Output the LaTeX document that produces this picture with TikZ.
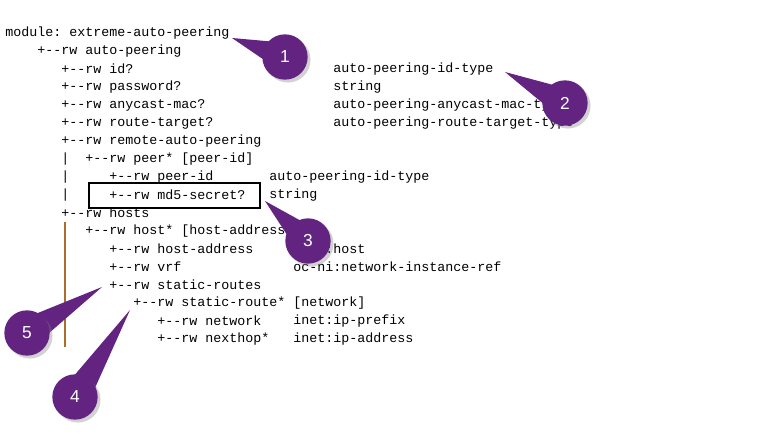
\documentclass[tikz,border=0pt]{standalone}
\usepackage{fontspec}
\setmonofont{Liberation Mono}
\setsansfont{Liberation Sans}
\usetikzlibrary{calc,shadows}
\definecolor{bubblecol}{RGB}{98,36,128}
\definecolor{barcol}{RGB}{170,110,40}

\begin{document}
\begin{tikzpicture}[
    x=0.75pt,y=-0.75pt,
    txt/.style={anchor=west,inner sep=0pt,font=\ttfamily\fontsize{10pt}{12pt}\selectfont},
    bubble/.style={circle,fill=bubblecol,minimum size=34pt,inner sep=0pt,text=white,
      font=\sffamily\fontsize{13pt}{15pt}\selectfont,drop shadow={opacity=0.35}},
    tail/.style={fill=bubblecol}]
    \useasboundingbox[fill=white] (0,0) rectangle (772,443);

    % tree text, 8px per column, 18px per row
    \node[txt] (mod) at (5,33) {module: extreme-auto-peering};
    \node[txt] (ap) at (37,51) {+{-}{-}rw auto-peering};
    \node[txt] (id) at (61,69) {+{-}{-}rw id?};
    \node[txt] (idt) at (333,69) {auto-peering-id-type};
    \node[txt] (pw) at (61,87) {+{-}{-}rw password?};
    \node[txt] (pwt) at (333,87) {string};
    \node[txt] (mac) at (61,105) {+{-}{-}rw anycast-mac?};
    \node[txt] (mact) at (333,105) {auto-peering-anycast-mac-type};
    \node[txt] (rt) at (61,123) {+{-}{-}rw route-target?};
    \node[txt] (rtt) at (333,123) {auto-peering-route-target-type};
    \node[txt] (rap) at (61,141) {+{-}{-}rw remote-auto-peering};
    \node[txt] (b1) at (61,159) {|};
    \node[txt] (peer) at (85,159) {+{-}{-}rw peer* [peer-id]};
    \node[txt] (b2) at (61,177) {|};
    \node[txt] (pid) at (109,177) {+{-}{-}rw peer-id};
    \node[txt] (pidt) at (269,177) {auto-peering-id-type};
    \node[txt] (b3) at (61,195) {|};
    \node[txt] (md5) at (109,195) {+{-}{-}rw md5-secret?};
    \node[txt] (md5t) at (269,195) {string};
    \node[txt] (hosts) at (61,213) {+{-}{-}rw hosts};
    \node[txt] (host) at (85,231) {+{-}{-}rw host* [host-address]};
    \node[txt] (ha) at (109,249) {+{-}{-}rw host-address};
    \node[txt] (hat) at (293,249) {inet:host};
    \node[txt] (vrf) at (109,267) {+{-}{-}rw vrf};
    \node[txt] (vrft) at (293,267) {oc-ni:network-instance-ref};
    \node[txt] (srs) at (109,285) {+{-}{-}rw static-routes};
    \node[txt] (sr) at (133,303) {+{-}{-}rw static-route* [network]};
    \node[txt] (net) at (157,321) {+{-}{-}rw network};
    \node[txt] (nett) at (293,321) {inet:ip-prefix};
    \node[txt] (nh) at (157,339) {+{-}{-}rw nexthop*};
    \node[txt] (nht) at (293,339) {inet:ip-address};

    \draw[barcol,line width=0.9pt] (65,222) -- (65,347);
    \draw[line width=2.2pt] (89,183) rectangle (260,208);

    % callouts
    \coordinate (c1) at (285,57);  \coordinate (t1) at (232,38);
    \coordinate (c2) at (565,103); \coordinate (t2) at (505,72);
    \coordinate (c3) at (308,241); \coordinate (t3) at (265,201);
    \coordinate (c4) at (75,397);  \coordinate (t4) at (130,310);
    \coordinate (c5) at (27,333);  \coordinate (t5) at (102,287);
    \foreach \n in {1,...,5}
      \fill[tail] (t\n) -- ($(c\n)!11pt!90:(t\n)$) -- ($(c\n)!11pt!-90:(t\n)$) -- cycle;
    \node[bubble] (n1) at (c1) {1};
    \node[bubble] (n2) at (c2) {2};
    \node[bubble] (n3) at (c3) {3};
    \node[bubble] (n4) at (c4) {4};
    \node[bubble] (n5) at (c5) {5};
\end{tikzpicture}
\end{document}
